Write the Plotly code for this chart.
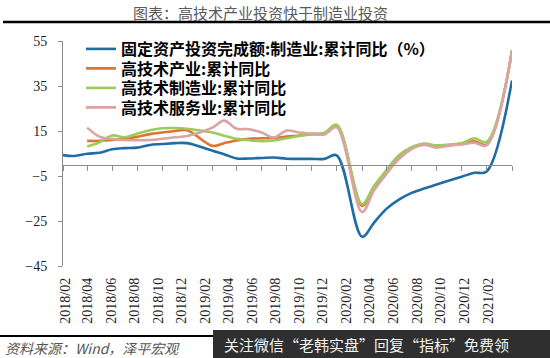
import pandas as pd
import plotly.graph_objects as go

# ---------------- data ----------------
DATES = (
    [f"2018-{m:02d}-01" for m in range(2, 13)]
    + [f"2019-{m:02d}-01" for m in range(2, 13)]
    + [f"2020-{m:02d}-01" for m in range(2, 13)]
    + ["2021-02-01"]
)

MFG_FAI = [4.3, 3.9, 4.9, 5.3, 6.9, 7.4, 7.6, 8.8, 9.2, 9.6, 9.6,
           6.2, 4.7, 2.8, 2.8, 3.0, 3.2, 2.7, 2.6, 2.6, 2.6, 4.2,
           -32.0, -25.8, -19.5, -15.5, -12.5, -10.6, -8.8, -7.0, -5.3, -3.6, -3.0,
           37.5]
HIGH_TECH = [None, None, 10.6, 10.6, 11.0, 11.6, 12.4, 13.6, 14.3, 15.0, 15.3,
             8.4, 9.6, 10.8, 11.5, 11.8, 11.8, 12.5, 13.0, 13.6, 13.9, 17.5,
             -18.3, -10.0, -2.8, 3.9, 7.6, 9.0, 8.2, 8.7, 9.3, 10.4, 9.0,
             50.6]
HIGH_TECH_MFG = [None, None, 8.1, 10.0, 13.0, 12.2, 13.8, 15.3, 16.2, 16.3, 16.0,
                 14.3, 12.9, 11.5, 10.9, 10.5, 10.8, 11.8, 12.8, 13.6, 14.2, 17.8,
                 -17.5, -9.5, -2.3, 4.2, 7.8, 9.4, 8.6, 9.0, 9.5, 11.8, 10.2,
                 50.2]
HIGH_TECH_SVC = [None, None, 16.5, 12.5, 11.5, 11.0, 10.9, 11.0, 11.5, 12.2, 12.8,
                 16.5, 19.6, 16.0, 15.8, 14.3, 12.1, 15.2, 14.3, 13.9, 13.4, 16.6,
                 -21.0, -11.5, -4.0, 2.5, 7.0, 8.8, 7.6, 8.5, 9.0, 9.8, 8.6,
                 51.0]

SERIES_NAMES = [
    "固定资产投资完成额:制造业:累计同比（%）",
    "高技术产业:累计同比",
    "高技术制造业:累计同比",
    "高技术服务业:累计同比",
]
COLORS = ["#1F6DA6", "#DD7430", "#9CCB5C", "#D9A4A2"]

TICK_DATES = [f"{y}-{m:02d}-01" for y in (2018, 2019, 2020) for m in (2, 4, 6, 8, 10, 12)] + ["2021-02-01"]
TICK_LABELS = [d[:7].replace("-", "/") for d in TICK_DATES]
Y_TICKS = [-45, -25, -5, 15, 35, 55]

TITLE = "图表：高技术产业投资快于制造业投资"
SOURCE = "资料来源：Wind，泽平宏观"
BANNER = "关注微信“老韩实盘”回复“指标”免费领"

# ---------------- layout helpers ----------------
W, H = 550, 358
L, R, T, B = 63, 38, 41, 92
PW, PH = W - L - R, H - T - B


def px_x(px):
    return (px - L) / PW


def px_y(py):
    return (H - B - py) / PH


CJK = "Noto Sans CJK SC"
SERIF = "Liberation Serif"

LEGEND_KEYS = ["legend", "legend2", "legend3", "legend4"]
LEGEND_ROWS_PX = [49, 68.5, 88, 107.5]

fig = go.Figure()
for name, vals, col, lg in zip(SERIES_NAMES, [MFG_FAI, HIGH_TECH, HIGH_TECH_MFG, HIGH_TECH_SVC],
                               COLORS, LEGEND_KEYS):
    fig.add_trace(go.Scatter(
        x=DATES, y=vals, name=name, mode="lines", legend=lg,
        line=dict(color=col, width=2.6, shape="spline", smoothing=1.0),
        connectgaps=False, hoverinfo="skip",
    ))

# helper (invisible) trace so that the label axis exists
fig.add_trace(go.Scatter(x=DATES, y=[None] * len(DATES), xaxis="x2", showlegend=False,
                         hoverinfo="skip", mode="lines"))

# label axis range (labels in the reference are slightly compressed vs the ticks)
start = pd.Timestamp(DATES[0])
end = pd.Timestamp(DATES[-1])
span_days = (end - start).days
lab_px_per_day = (484 - 61) / span_days
lab_start = start - pd.Timedelta(days=(L - 61) / lab_px_per_day)
lab_end = lab_start + pd.Timedelta(days=PW / lab_px_per_day)

legend_style = dict(
    xanchor="left", yanchor="middle",
    bgcolor="rgba(0,0,0,0)", borderwidth=0,
    font=dict(family=CJK, size=16, color="#000000", weight="bold"),
    itemwidth=30, tracegroupgap=0,
)
legends = {k: dict(legend_style, x=px_x(81), y=px_y(r)) for k, r in zip(LEGEND_KEYS, LEGEND_ROWS_PX)}

fig.update_layout(
    width=W, height=H,
    margin=dict(l=L, r=R, t=T, b=B, pad=0),
    paper_bgcolor="white", plot_bgcolor="white",
    showlegend=True,
    **legends,
    xaxis=dict(
        type="date", range=[DATES[0], DATES[-1]],
        anchor="free", position=(0 - Y_TICKS[0]) / (Y_TICKS[-1] - Y_TICKS[0]),
        showline=True, linecolor="#8c8c8c", linewidth=1,
        ticks="outside", ticklen=5, tickcolor="#8c8c8c",
        tickvals=TICK_DATES, showticklabels=False,
        showgrid=False, zeroline=False,
    ),
    xaxis2=dict(
        type="date", range=[lab_start.isoformat(), lab_end.isoformat()],
        overlaying="x", anchor="y", side="bottom",
        showline=False, ticks="", tickvals=TICK_DATES, ticktext=TICK_LABELS,
        tickangle=-90, tickfont=dict(family=SERIF, size=14, color="#222222"),
        ticklabelstandoff=8,
        showgrid=False, zeroline=False,
    ),
    yaxis=dict(
        range=[Y_TICKS[0], Y_TICKS[-1]], tickvals=Y_TICKS,
        showline=True, linecolor="#8c8c8c", linewidth=1,
        ticks="outside", ticklen=4, tickcolor="#8c8c8c",
        tickfont=dict(family=SERIF, size=14, color="#222222"),
        ticklabelstandoff=8,
        showgrid=False, zeroline=False,
    ),
)

shapes = [
    dict(type="line", xref="paper", yref="paper", x0=px_x(3), x1=px_x(550), y0=px_y(22), y1=px_y(22),
         line=dict(color="#000000", width=2.5)),
    dict(type="line", xref="paper", yref="paper", x0=px_x(0), x1=px_x(550), y0=px_y(336), y1=px_y(336),
         line=dict(color="#000000", width=2.2)),
    dict(type="rect", xref="paper", yref="paper", x0=px_x(213), x1=px_x(551), y0=px_y(359), y1=px_y(330),
         line=dict(width=0), fillcolor="#2f2f2f"),
]
fig.update_layout(shapes=shapes)

fig.add_annotation(text=TITLE, xref="paper", yref="paper", x=px_x(260), y=px_y(12),
                   xanchor="center", yanchor="middle", showarrow=False,
                   font=dict(family=CJK, size=15, color="#5a5a5a"))
fig.add_annotation(text=SOURCE, xref="paper", yref="paper", x=px_x(3), y=px_y(348),
                   xanchor="left", yanchor="middle", showarrow=False,
                   font=dict(family=CJK, size=14, color="#555555", style="italic"))
fig.add_annotation(text=BANNER, xref="paper", yref="paper", x=px_x(222), y=px_y(344),
                   xanchor="left", yanchor="middle", showarrow=False,
                   font=dict(family=CJK, size=15, color="#f2f2f2"))

fig.write_html(
    "out.html",
    config={"displayModeBar": False, "staticPlot": True},
    post_script="document.body.style.margin='0';document.body.style.overflow='hidden';",
)
